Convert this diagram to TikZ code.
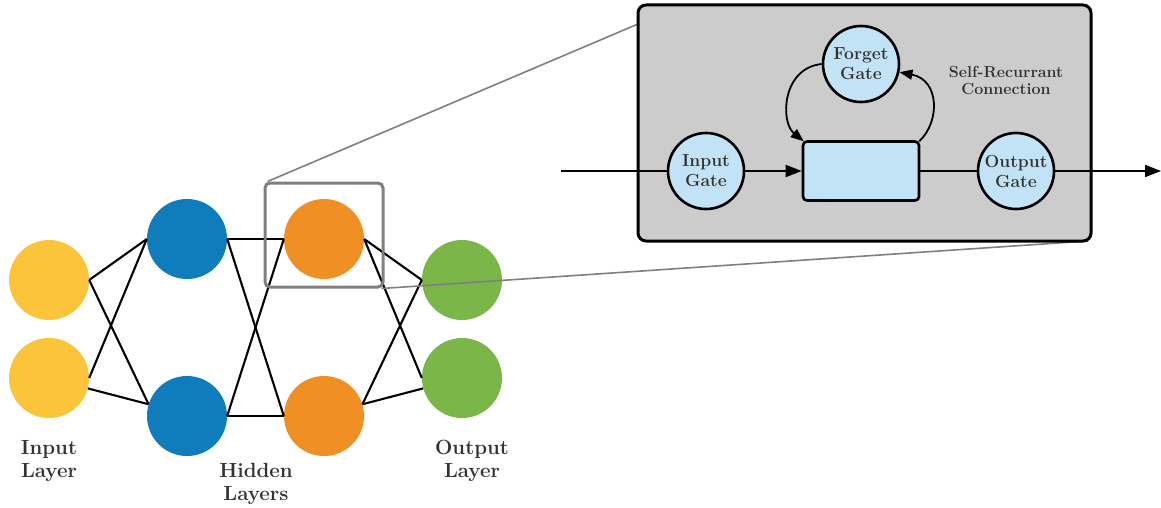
\documentclass[tikz,border=0pt]{standalone}
\usepackage{fontspec}
\usetikzlibrary{arrows.meta,calc}

\definecolor{inyellow}{HTML}{FBC43A}
\definecolor{hidblue}{HTML}{0F7CBB}
\definecolor{hidorange}{HTML}{F08F24}
\definecolor{outgreen}{HTML}{7AB648}
\definecolor{gatefill}{HTML}{C2E3F5}
\definecolor{cellgray}{HTML}{CCCCCC}
\definecolor{labelgray}{HTML}{333333}
\definecolor{zoomgray}{HTML}{7F7F7F}

\tikzset{
  neuron/.style={circle, minimum size=80pt, inner sep=0pt, fill=#1},
  wire/.style={line width=2.1pt, black},
  gate/.style={circle, draw=black, line width=2.6pt, fill=gatefill,
    minimum size=76pt, inner sep=0pt, text=labelgray, align=center,
    font=\fontsize{17.5}{20}\selectfont\bfseries},
  layerlabel/.style={text=labelgray, align=center,
    font=\fontsize{20.5}{22.5}\selectfont\bfseries},
  flow/.style={line width=1.8pt, black},
  tipend/.style={-{Triangle[length=16pt,width=12pt]}},
  looptip/.style={-{Triangle[length=13pt,width=10pt]}},
}

\begin{document}
\begin{tikzpicture}[x=1pt,y=-1pt]
\useasboundingbox (0,0) rectangle (1161,508);

% --- feed-forward network ---
\node[neuron=inyellow]  (i1) at (49,280) {};
\node[neuron=inyellow]  (i2) at (49,378) {};
\node[neuron=hidblue]   (h1) at (187,239) {};
\node[neuron=hidblue]   (h2) at (187,416) {};
\node[neuron=hidorange] (k1) at (324,239) {};
\node[neuron=hidorange] (k2) at (324,416) {};
\node[neuron=outgreen]  (o1) at (462,280) {};
\node[neuron=outgreen]  (o2) at (462,378) {};

\draw[wire] (i1.east) -- (h1.west);
\draw[wire] (i1.east) -- (h2.163);
\draw[wire] (i2.east) -- (h1.west);
\draw[wire] (i2.-15) -- (h2.163);

\draw[wire] (h1.east) -- (k1.west);
\draw[wire] (h1.east) -- (k2.west);
\draw[wire] (h2.east) -- (k1.west);
\draw[wire] (h2.east) -- (k2.west);

\draw[wire] (k1.east) -- (o1.west);
\draw[wire] (k1.east) -- (o2.west);
\draw[wire] (k2.17) -- (o1.west);
\draw[wire] (k2.17) -- (o2.195);

\node[layerlabel] (lin)  at (49,461)  {Input\\Layer};
\node[layerlabel] (lhid) at (256,484) {Hidden\\Layers};
\node[layerlabel] (lout) at (472,461) {Output\\Layer};

% --- magnified LSTM cell ---
\node[draw=zoomgray, line width=3pt, rounded corners=5pt,
      minimum width=118pt, minimum height=104pt, inner sep=0pt]
      (zoomsrc) at (324,235) {};

\draw[zoomgray, line width=1.6pt] ($(zoomsrc.north west)+(4,0)$) -- (638,24);
\draw[zoomgray, line width=1.6pt] ($(zoomsrc.south east)+(-3,0)$) -- (1088,241);

\node[draw=black, fill=cellgray, line width=3pt, rounded corners=8pt,
      minimum width=453pt, minimum height=236pt, inner sep=0pt]
      (cell) at (864.5,123) {};

\node[gate] (ig) at (706,171) {Input\\Gate};
\node[gate] (fg) at (861,64)  {Forget\\Gate};
\node[gate] (og) at (1016,171) {Output\\Gate};
\node[draw=black, fill=gatefill, line width=2.6pt, rounded corners=4pt,
      minimum width=116pt, minimum height=59pt, inner sep=0pt]
      (mem) at (861,171) {};

\node[text=labelgray, align=center,
      font=\fontsize{16}{17}\selectfont\bfseries]
      (selfrec) at (1006,80) {Self-Recurrant\\Connection};

\coordinate (cin)  at (561,171);
\coordinate (cout) at (1161,171);

\draw[flow] (cin) -- (ig.west);
\draw[flow, tipend] (ig.east) -- (mem.west);
\draw[flow] (mem.east) -- (og.west);
\draw[flow, tipend] (og.east) -- (cout);

\draw[flow, looptip] (fg.west) .. controls (782,68) and (780,122) .. ($(mem.north west)+(2,1)$);
\draw[flow, looptip] ($(mem.north east)+(-1,1)$) .. controls (940,122) and (940,80) .. (fg.-12);
\end{tikzpicture}
\end{document}
